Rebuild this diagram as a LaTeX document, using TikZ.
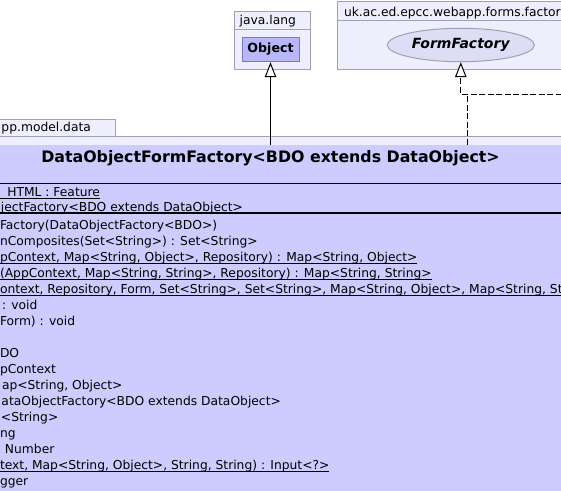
\documentclass[tikz,border=0pt]{standalone}
\usepackage{fontspec}
\setmainfont{DejaVu Sans}
\usetikzlibrary{shapes.geometric,arrows.meta}
\definecolor{pkgfill}{RGB}{238,238,252}
\definecolor{pkgdraw}{RGB}{160,160,178}
\definecolor{clsfill}{RGB}{204,204,255}
\definecolor{objfill}{RGB}{184,184,248}
\definecolor{objdraw}{RGB}{120,120,200}
\definecolor{iffill}{RGB}{221,221,245}
\begin{document}
\begin{tikzpicture}[x=1pt,y=-1pt,
  pkg/.style={draw=pkgdraw,fill=pkgfill,line width=1pt},
  pkgline/.style={draw=pkgdraw,line width=1pt},
  txt/.style={inner sep=0pt,outer sep=0pt,anchor=base west,font=\fontsize{12.3}{14}\selectfont},
  uline/.style={line width=0.8pt},
  gen/.style={-{Triangle[length=15pt,width=11.5pt,fill=white]},line width=1pt},
  dashedge/.style={line width=1pt,dash pattern=on 6pt off 2.5pt},
  realedge/.style={gen,dash pattern=on 6pt off 2.5pt}]
\useasboundingbox (0,0) rectangle (561,490);
\clip (0,0) rectangle (561,490);
\fill[white] (0,0) rectangle (561,490);
% java.lang
\draw[pkg] (234.3,11.7) rectangle (310.3,69.3);
\draw[pkgline] (234.3,29.3) -- (310.3,29.3);
\node[txt] (jl) at (239.7,24.7) {java.lang};
\node[draw=objdraw,fill=objfill,line width=1pt,minimum width=57pt,minimum height=24.4pt,inner sep=0pt,font=\bfseries\fontsize{12.6}{14}\selectfont] (obj) at (270.5,49.5) {Object};
% forms.factory
\draw[pkg] (337.5,1) rectangle (570,69.3);
\draw[pkgline] (337.5,20.7) -- (570,20.7);
\node[txt] (ffpkg) at (344,16) {uk.ac.ed.epcc.webapp.forms.factory};
\node[ellipse,draw=pkgdraw,fill=iffill,line width=1pt,minimum width=147pt,minimum height=33.4pt,inner sep=0pt,font=\bfseries\itshape\fontsize{14}{16}\selectfont] (ff) at (460.8,45) {FormFactory};
% model.data
\draw[pkg] (-10,119.3) rectangle (115.7,136);
\draw[pkg] (-10,136) rectangle (570,600);
\node[txt] (mdpkg) at (1.5,131) {pp.model.data};
% class
\node[fill=clsfill,minimum width=800pt,minimum height=400pt,anchor=north,inner sep=0pt] (cls) at (270.5,144.5) {};
\node[anchor=base,inner sep=0pt,font=\bfseries\fontsize{15.8}{18}\selectfont] (title) at (270.5,162.8) {DataObjectFormFactory<BDO extends DataObject>};
\draw[line width=1pt] (-10,183) -- (570,183);
\draw[line width=1.6pt] (-10,213) -- (570,213);
\node[txt] (a1) at (7.3,196) {HTML : Feature};
\node[txt] (a2) at (1,211) {jectFactory<BDO extends DataObject>};
\node[txt] (m1) at (0,229.3) {Factory(DataObjectFactory<BDO>)};
\node[txt] (m2) at (0,245.3) {nComposites(Set<String>) : Set<String>};
\node[txt] (m3) at (0,261.3) {pContext, Map<String, Object>, Repository) : Map<String, Object>};
\node[txt] (m4) at (0,277.3) {(AppContext, Map<String, String>, Repository) : Map<String, String>};
\node[txt] (m5) at (0,293.3) {ontext, Repository, Form, Set<String>, Set<String>, Map<String, Object>, Map<String, St};
\node[txt] (m6) at (2,309.3) {: void};
\node[txt] (m7) at (0,325.3) {Form) : void};
\node[txt] (m9) at (0,357.3) {DO};
\node[txt] (m10) at (0,373.3) {pContext};
\node[txt] (m11) at (2,389.3) {ap<String, Object>};
\node[txt] (m12) at (1.5,405.3) {ataObjectFactory<BDO extends DataObject>};
\node[txt] (m13) at (1,421.3) {<String>};
\node[txt] (m14) at (0,437.3) {ng};
\node[txt] (m15) at (5,453.3) {Number};
\node[txt] (m16) at (0,469.3) {text, Map<String, Object>, String, String) : Input<?>};
\node[txt] (m17) at (0,485.3) {gger};
\foreach \n in {a1,m3,m4,m5,m16}
  \draw[uline] ([yshift=-2pt]\n.base east) -- ++(-600,0);
% connectors
\draw[gen] (cls.north) -- (obj.south);
\coordinate (j1) at (467,94);
\coordinate (offr) at (570,94);
\draw[dashedge] (cls.north -| j1) -- (j1);
\draw[realedge] (offr) -- (offr -| ff.south) -- (ff.south);
\end{tikzpicture}
\end{document}
